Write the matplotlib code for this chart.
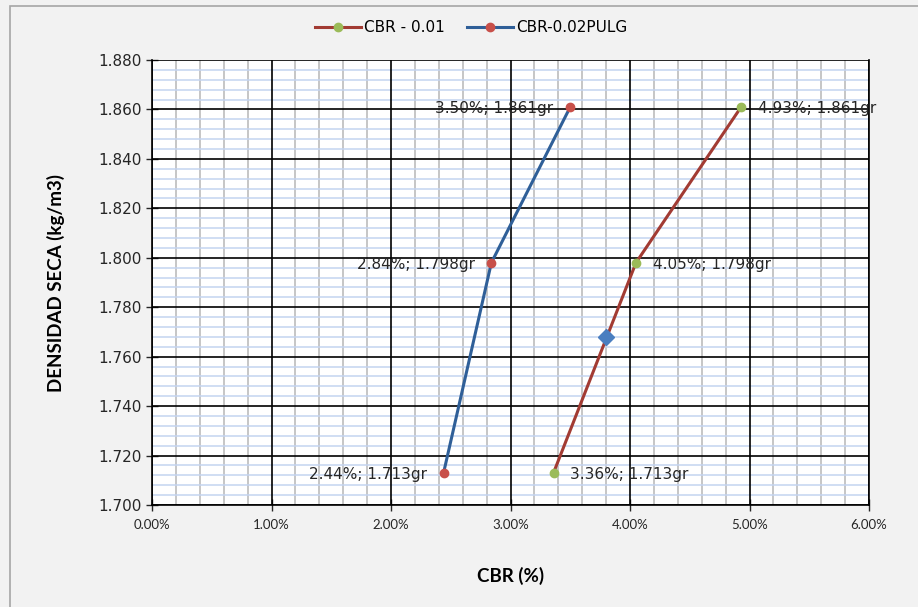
import numpy as np
import matplotlib.pyplot as plt
from matplotlib.ticker import MultipleLocator, FuncFormatter
from matplotlib.patches import Rectangle

plt.rcParams['font.family'] = ['DejaVu Sans']

# CBR values (%) and dry density
cbr_01 = [3.36, 4.05, 4.93]
dens_01 = [1.713, 1.798, 1.861]
cbr_02 = [2.44, 2.84, 3.50]
dens_02 = [1.713, 1.798, 1.861]
design_cbr = [3.80]
design_dens = [1.768]

fig = plt.figure(figsize=(9.18, 6.07), dpi=100, facecolor='#f2f2f2')
ax = fig.add_axes([152/918, 1-505/607, (869-152)/918, (505-60)/607])
ax.set_facecolor('white')

# outer chart frame
fig.patches.append(Rectangle((10/918, -0.05), 1.0, 1-6/607+0.05, transform=fig.transFigure,
                             fill=False, edgecolor='#a6a6a6', linewidth=1.2))

ax.set_xlim(0, 6)
ax.set_ylim(1.700, 1.880)
ax.xaxis.set_major_locator(MultipleLocator(1))
ax.xaxis.set_minor_locator(MultipleLocator(0.2))
ax.yaxis.set_major_locator(MultipleLocator(0.02))
ax.yaxis.set_minor_locator(MultipleLocator(0.004))
ax.xaxis.set_major_formatter(FuncFormatter(lambda v, p: f'{v:.2f}%'))
ax.yaxis.set_major_formatter(FuncFormatter(lambda v, p: f'{v:.3f}'))

ax.grid(which='minor', axis='y', color='#c4d4f0', linewidth=1.1)
ax.grid(which='minor', axis='x', color='#c6c6c6', linewidth=1.4)
ax.set_axisbelow(True)
# major grid on top of the minor one
for xv in ax.get_xticks():
    ax.axvline(xv, color='black', linewidth=1.2, zorder=1)
for yv in ax.get_yticks():
    ax.axhline(yv, color='black', linewidth=1.2, zorder=1)

ax.tick_params(which='major', direction='inout', length=8, width=1, colors='#262626')
ax.tick_params(axis='y', labelsize=11)
ax.tick_params(axis='x', labelsize=9.5, pad=6)
for lab in ax.get_xticklabels():
    lab.set_family('Lato')
ax.tick_params(which='minor', length=0)
for s in ax.spines.values():
    s.set_color('black')
    s.set_linewidth(1.2)
ax.spines['top'].set_visible(False)

ax.plot(cbr_01, dens_01, color='#a23b33', linewidth=2.2, marker='o', markersize=6,
        markerfacecolor='#9bbb59', markeredgecolor='#9bbb59', label='CBR - 0.01', zorder=3)
ax.plot(cbr_02, dens_02, color='#2f5f98', linewidth=2.2, marker='o', markersize=6,
        markerfacecolor='#c8504a', markeredgecolor='#c8504a', label='CBR-0.02PULG', zorder=3)
ax.plot(design_cbr, design_dens, linestyle='none', marker='D', markersize=8,
        color='#4a7ec0', zorder=4)

for x, y in zip(cbr_01, dens_01):
    ax.annotate(f'{x:.2f}%; {y:.3f}gr', (x, y), xytext=(12, -1), textcoords='offset points',
                ha='left', va='center', fontsize=11, color='#262626', zorder=5)
for x, y in zip(cbr_02, dens_02):
    ax.annotate(f'{x:.2f}%; {y:.3f}gr', (x, y), xytext=(-12, -1), textcoords='offset points',
                ha='right', va='center', fontsize=11, color='#262626', zorder=5)

ax.set_xlabel('CBR (%)', fontsize=13.5, fontweight='bold', family='Lato', labelpad=26)
ax.set_ylabel('DENSIDAD SECA (kg/m3)', fontsize=13.5, fontweight='bold', family='Lato', labelpad=24)

ax.legend(loc='lower center', bbox_to_anchor=(0.445, 1.025), ncol=2, frameon=False,
          fontsize=11, handlelength=3, columnspacing=1.5, handletextpad=0.2)

fig.savefig('out.png', dpi=100, facecolor=fig.get_facecolor())
